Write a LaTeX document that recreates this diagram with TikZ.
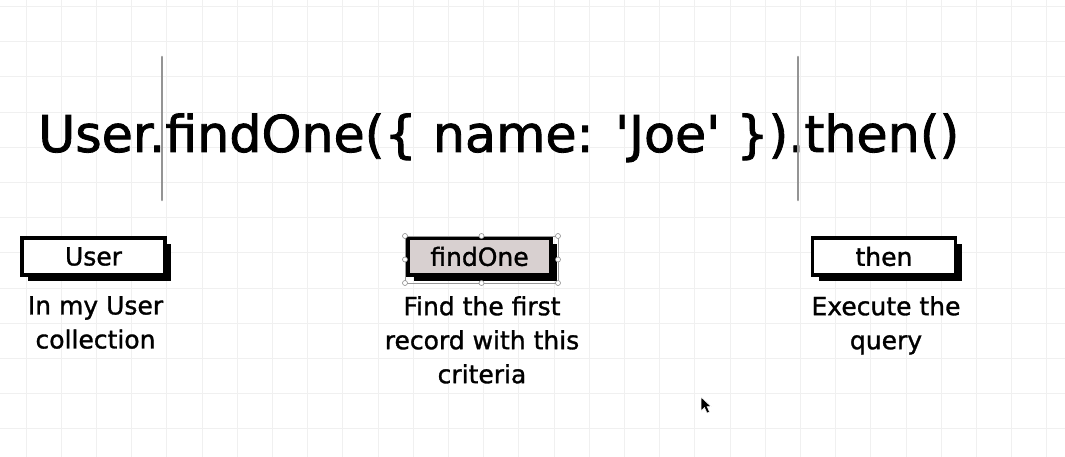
\documentclass[tikz,border=0pt]{standalone}
\usepackage{fontspec}
\setmainfont{DejaVu Sans}[Ligatures=TeXOff]
\newfontfamily\codefont{DejaVu Sans}[Ligatures=TeXOff, FakeBold=1.6]
\newfontfamily\labelfont{DejaVu Sans}[Ligatures=TeXOff, FakeBold=1.2]
\usetikzlibrary{shadows}
\tikzset{
  gridline/.style={draw=black!6, line width=0.9pt},
  bar/.style={draw=black!42, line width=2.6pt, line cap=round},
  codetext/.style={anchor=base west, inner sep=0pt, font=\codefont\fontsize{50.7}{60}\selectfont},
  tagbox/.style={draw=black, line width=3.4pt, minimum width=143pt, minimum height=37pt,
    inner sep=0pt, font=\labelfont\fontsize{25}{30}\selectfont,
    drop shadow={shadow xshift=6pt, shadow yshift=-6pt, fill=black, opacity=1}},
  desc/.style={anchor=north, align=center, inner sep=0pt, font=\labelfont\fontsize{25}{34}\selectfont},
  handle/.style={circle, draw=black!45, fill=white, line width=0.6pt, inner sep=0pt, minimum size=5pt},
}
\begin{document}
\begin{tikzpicture}[x=1pt,y=-1pt]
\useasboundingbox (0,0) rectangle (1065,457);
\fill[white] (0,0) rectangle (1065,457);
% grid
\foreach \i in {0,...,29} \draw[gridline] ({26+35.2*\i},0) -- ++(0,457);
\foreach \j in {0,...,12} \draw[gridline] (0,{6.5+35.2*\j}) -- ++(1065,0);
% main code line
\node[codetext] (code) at (38,152) {User.findOne(\{ name: 'Joe' \}).then()};
% cursor bars
\coordinate (b1t) at (162,57); \coordinate (b1b) at (162,200);
\coordinate (b2t) at (798,57); \coordinate (b2b) at (798,200);
\draw[bar] (b1t) -- (b1b);
\draw[bar] (b2t) -- (b2b);
% boxes
\node[tagbox, fill=white] (user) at (93.5,256.5) {User};
\node[tagbox, fill={rgb,255:red,216;green,208;blue,208}] (findone) at (479.5,256.5) {findOne};
\node[tagbox, fill=white] (then) at (884,256.5) {then};
% selection of findOne
\coordinate (s1) at (405,236); \coordinate (s2) at (558,283);
\draw[black!40, line width=0.5pt] (s1) rectangle (s2);
\foreach \p in {(405,236),(481.5,236),(558,236),(405,259.5),(558,259.5),(405,283),(481.5,283),(558,283)}
  \node[handle] at \p {};
% descriptions
\node[desc] (d1) at (95.5,296) {In my User\\collection};
\node[desc] (d2) at (482,296) {Find the first\\record with this\\criteria};
\node[desc] (d3) at (886,296) {Execute the\\query};
% mouse pointer
\fill[black, draw=white, line width=0.5pt] (701,397) -- (701,411) -- (704.5,407.5) -- (707,413) -- (709.5,412) -- (707,406.5) -- (711,406.5) -- cycle;
\end{tikzpicture}
\end{document}
